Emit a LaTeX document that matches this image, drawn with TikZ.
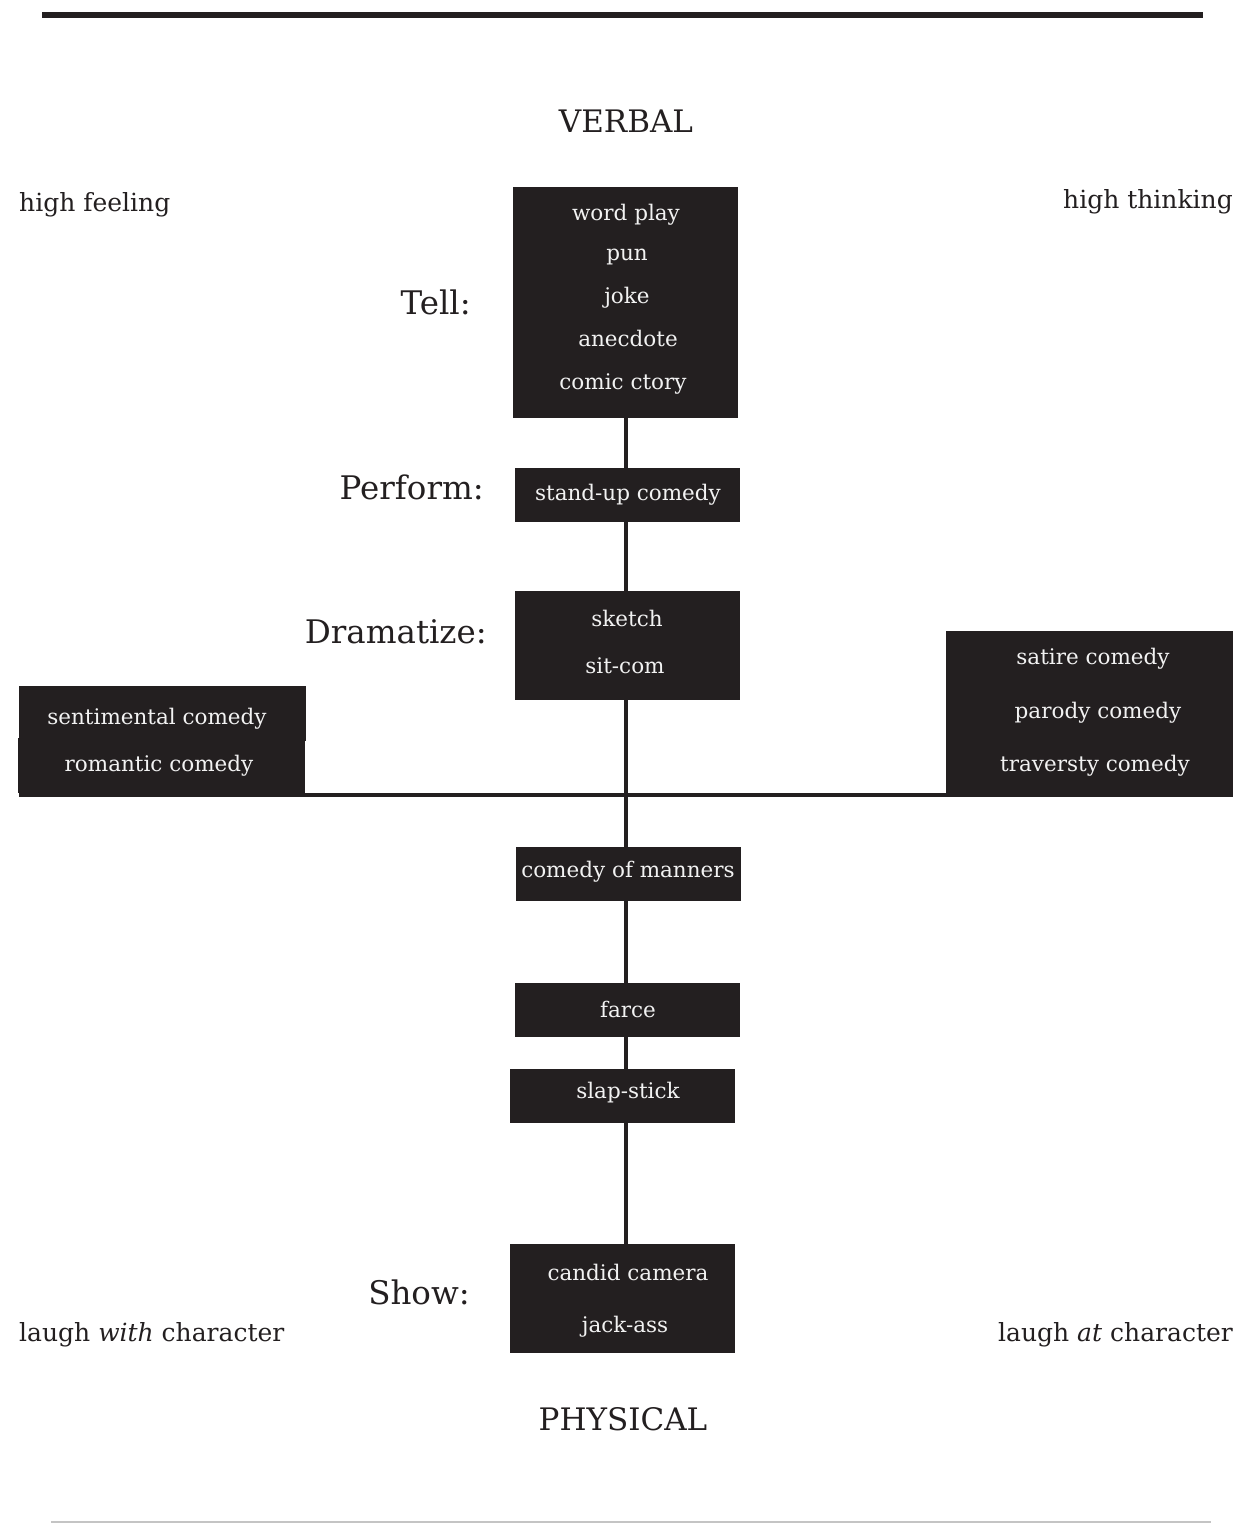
\documentclass[tikz,border=0pt]{standalone}
\usepackage{fontspec}
\setmainfont{DejaVu Serif}
\usetikzlibrary{backgrounds}
\definecolor{ink}{HTML}{231F20}
\definecolor{paper}{HTML}{F2F2F2}
\definecolor{rulegray}{HTML}{C4C4C4}
\newcommand{\boxtext}{\fontsize{21.5}{26}\selectfont}
\newcommand{\sidetext}{\fontsize{25}{30}\selectfont}
\newcommand{\headtext}{\fontsize{31}{36}\selectfont}
\newcommand{\modetext}{\fontsize{32.5}{38}\selectfont}
\tikzset{
  genre/.style={fill=ink, draw=none, inner sep=0pt, rectangle},
  entry/.style={text=paper, font=\boxtext, inner sep=0pt, text height=0.76em, text depth=0.23em, yshift=-5pt},
  corner/.style={text=ink, font=\sidetext, inner sep=0pt, text height=0.76em, text depth=0.23em, yshift=-7pt},
  pole/.style={text=ink, font=\headtext, inner sep=0pt, text height=0.73em, text depth=0pt, yshift=-8pt},
  mode/.style={text=ink, font=\modetext, inner sep=0pt, anchor=east, text height=0.76em, text depth=0.23em, yshift=-9pt},
  spine/.style={draw=ink, line width=4pt},
}
\begin{document}
\begin{tikzpicture}[x=1pt, y=-1pt]
\useasboundingbox (0,0) rectangle (1239,1524);

% page rules
\draw[ink, line width=6pt] (42,15) -- (1203,15);
\draw[rulegray, line width=1.5pt] (51,1522) -- (1211,1522);

% poles and corners
\node[pole] (verbal) at (626,121) {VERBAL};
\node[pole] (physical) at (623,1419) {PHYSICAL};
\node[corner, anchor=west] (feel) at (19,202) {high feeling};
\node[corner, anchor=east] (think) at (1233,199) {high thinking};
\node[corner, anchor=west] (with) at (19,1332) {laugh \textit{with} character};
\node[corner, anchor=east] (at) at (1233,1332) {laugh \textit{at} character};

% genre boxes
\node[genre, minimum width=225pt, minimum height=231pt] (tell) at (625.5,302.5) {};
\node[genre, minimum width=225pt, minimum height=54pt] (standup) at (627.5,495) {};
\node[genre, minimum width=225pt, minimum height=109pt] (drama) at (627.5,645.5) {};
\node[genre, minimum width=287pt, minimum height=55pt] (sentim) at (162.5,713.5) {};
\node[genre, minimum width=287pt, minimum height=55pt] (romant) at (161.5,765.5) {};
\node[genre, minimum width=287pt, minimum height=166pt] (satire) at (1089.5,714) {};
\node[genre, minimum width=225pt, minimum height=54pt] (manners) at (628.5,874) {};
\node[genre, minimum width=225pt, minimum height=54pt] (farce) at (627.5,1010) {};
\node[genre, minimum width=225pt, minimum height=54pt] (slap) at (622.5,1096) {};
\node[genre, minimum width=225pt, minimum height=109pt] (show) at (622.5,1298.5) {};

% axes behind the boxes
\begin{scope}[on background layer]
  \draw[spine] (tell.south -| 626,0) -- (show.north -| 626,0);
  \coordinate (hleft) at (19,795);
  \draw[spine] (hleft) -- (hleft -| satire.west);
\end{scope}

% box entries
\node[entry] (t1) at (626,213) {word play};
\node[entry] (t2) at (627,253) {pun};
\node[entry] (t3) at (627,296) {joke};
\node[entry] (t4) at (628,339) {anecdote};
\node[entry] (t5) at (623,382) {comic ctory};
\node[entry] (p1) at (628,493) {stand-up comedy};
\node[entry] (d1) at (627,619) {sketch};
\node[entry] (d2) at (625,666) {sit-com};
\node[entry] (l1) at (157,717) {sentimental comedy};
\node[entry] (l2) at (159,764) {romantic comedy};
\node[entry] (r1) at (1093,657) {satire comedy};
\node[entry] (r2) at (1098,711) {parody comedy};
\node[entry] (r3) at (1095,764) {traversty comedy};
\node[entry] (m1) at (628,870) {comedy of manners};
\node[entry] (f1) at (628,1010) {farce};
\node[entry] (s1) at (628,1091) {slap-stick};
\node[entry] (w1) at (628,1273) {candid camera};
\node[entry] (w2) at (625,1325) {jack-ass};

% modes of delivery
\node[mode] (mtell) at (471,303) {Tell:};
\node[mode] (mperf) at (484,488) {Perform:};
\node[mode] (mdram) at (487,632) {Dramatize:};
\node[mode] (mshow) at (470,1293) {Show:};
\end{tikzpicture}
\end{document}
